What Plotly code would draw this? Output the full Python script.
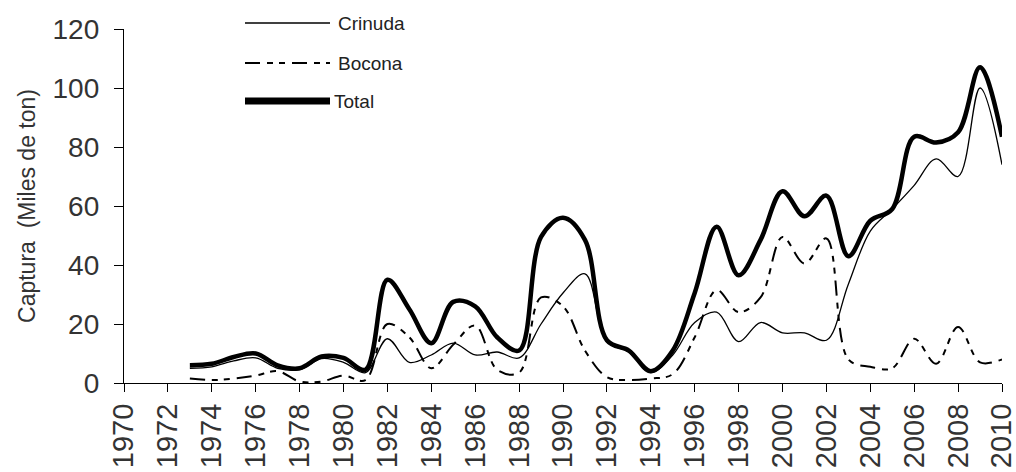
import plotly.graph_objects as go

# Annual catch (thousand tonnes), 1973-2010
years = list(range(1973, 2011))

crinuda = [5, 5.5, 7.5, 8.5, 5, 4.5, 8.3, 7, 3.5,
           15, 7, 9.5, 13.5, 9.5, 10.5, 8.5, 20, 30.5, 37,
           14, 10.5, 3.5, 9.5, 20.5, 24, 14, 20.5, 17, 17,
           14.5, 33.5, 51.5, 59, 67, 76, 70, 100, 74]

bocona = [1.5, 1, 1.5, 2.5, 4, 0.5, 0.5, 2.5, 1,
          20, 15.5, 5, 13, 19.5, 4.5, 3.5, 29, 26, 11,
          2, 1, 1.5, 3, 15.5, 31.5, 24, 29, 49.5, 40.5,
          49, 8, 5.5, 5, 15, 6.5, 19, 7, 8]

total = [6, 6.5, 8.8, 10, 6, 5, 9, 8.5, 4.5,
         35, 25, 13.5, 27.5, 26, 15.5, 11, 49.5, 56, 48.5,
         14.5, 11, 4, 11, 30.5, 53, 36.5, 48.5, 65, 56.5,
         63.5, 43, 55, 59, 83.5, 81.5, 85, 107, 83.5]

x_ticks = list(range(1970, 2011, 2))
y_ticks = [0, 20, 40, 60, 80, 100, 120]

series_names = ["Crinuda", "Bocona", "Total"]

BOCONA_DASH = "15px,7px,6px,6px,6px,7px"
FONT = "Liberation Sans, Arial, sans-serif"

fig = go.Figure()
fig.add_trace(go.Scatter(
    x=years, y=crinuda, name=series_names[0], mode="lines",
    line=dict(color="black", width=1.3, shape="spline", smoothing=1.0),
    showlegend=False))
fig.add_trace(go.Scatter(
    x=years, y=bocona, name=series_names[1], mode="lines",
    line=dict(color="black", width=2, dash=BOCONA_DASH, shape="spline", smoothing=1.0),
    showlegend=False))
fig.add_trace(go.Scatter(
    x=years, y=total, name=series_names[2], mode="lines",
    line=dict(color="black", width=4.5, shape="spline", smoothing=1.0),
    showlegend=False))

# Hand-drawn legend: long line samples with labels to their right
W, H = 1016, 472
L, R, T, B = 124, 14, 29, 89
pw, ph = W - L - R, H - T - B


def px_x(px):
    return (px - L) / pw


def px_y(py):
    return (H - B - py) / ph


legend_rows = [
    (series_names[0], 23, dict(color="black", width=1.3), 336),
    (series_names[1], 63, dict(color="black", width=2, dash=BOCONA_DASH), 336),
    (series_names[2], 101, dict(color="black", width=7), 332),
]
for label, py, line, tx in legend_rows:
    fig.add_shape(type="line", xref="paper", yref="paper",
                  x0=px_x(245), x1=px_x(330), y0=px_y(py), y1=px_y(py), line=line)
    fig.add_annotation(xref="paper", yref="paper", x=px_x(tx), y=px_y(py),
                       text=label, showarrow=False, xanchor="left", yanchor="middle",
                       font=dict(family=FONT, size=19, color="#222"))

fig.update_layout(
    width=W, height=H,
    margin=dict(l=L, r=R, t=T, b=B, autoexpand=False),
    paper_bgcolor="white", plot_bgcolor="white",
    font=dict(family=FONT, color="#333"),
)
fig.update_xaxes(
    range=[1970, 2010], tickvals=x_ticks, ticktext=[str(v) for v in x_ticks],
    tickangle=-90, ticks="outside", ticklen=8, tickwidth=1.3, tickcolor="black",
    showline=True, linecolor="black", linewidth=1.3, showgrid=False, zeroline=False,
    tickfont=dict(family=FONT, size=29, color="#333"), automargin=False,
    ticklabeloverflow="allow",
)
fig.update_yaxes(
    range=[0, 120], tickvals=y_ticks, ticks="outside", ticklen=9, tickwidth=1.3,
    tickcolor="black", showline=True, linecolor="black", linewidth=1.3,
    showgrid=False, zeroline=False, ticklabelstandoff=9,
    tickfont=dict(family=FONT, size=28, color="#333"), automargin=False,
    title=dict(text="Captura  (Miles de ton)", standoff=10,
               font=dict(family=FONT, size=23, color="#333")),
)

fig.write_html("out.html")
